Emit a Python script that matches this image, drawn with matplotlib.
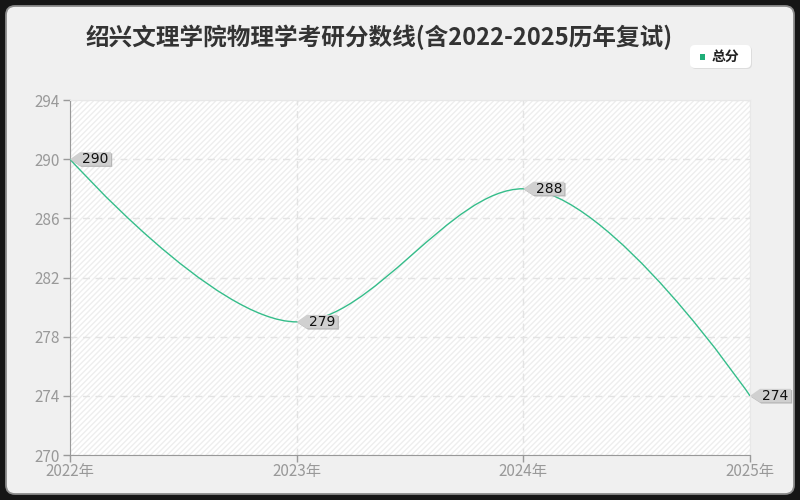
import matplotlib
matplotlib.use('Agg')
import matplotlib.pyplot as plt
import matplotlib.transforms as mtransforms
from matplotlib.patches import FancyBboxPatch, Polygon, PathPatch, Rectangle
from matplotlib.path import Path
import numpy as np

plt.rcParams['font.family'] = ['Noto Sans CJK SC', 'DejaVu Sans']

title = '绍兴文理学院物理学考研分数线(含2022-2025历年复试)'
years = [2022, 2023, 2024, 2025]
year_labels = ['2022年', '2023年', '2024年', '2025年']
scores = [290, 279, 288, 274]
series_name = '总分'

LINE_COLOR = '#35bd8a'
GRAY_TEXT = '#999999'


def smooth_path(px, py, smooth=0.35):
    # echarts-style bezier smoothing, done in pixel space
    n = len(px)
    verts = [(px[0], py[0])]
    codes = [Path.MOVETO]
    cp0 = (px[0], py[0])
    for i in range(1, n):
        x, y = px[i], py[i]
        prev_x, prev_y = px[i - 1], py[i - 1]
        if i == n - 1:
            cp1 = (x, y)
            nxt = None
        else:
            nx, ny = px[i + 1], py[i + 1]
            vx, vy = nx - prev_x, ny - prev_y
            len_prev = np.hypot(x - prev_x, y - prev_y)
            len_next = np.hypot(nx - x, ny - y)
            ratio = len_next / (len_next + len_prev)
            ncx = x + vx * smooth * ratio
            ncy = y + vy * smooth * ratio
            ncx = min(ncx, max(nx, x)); ncy = min(ncy, max(ny, y))
            ncx = max(ncx, min(nx, x)); ncy = max(ncy, min(ny, y))
            vx, vy = ncx - x, ncy - y
            c1x = x - vx * len_prev / len_next
            c1y = y - vy * len_prev / len_next
            c1x = min(c1x, max(prev_x, x)); c1y = min(c1y, max(prev_y, y))
            c1x = max(c1x, min(prev_x, x)); c1y = max(c1y, min(prev_y, y))
            vx, vy = x - c1x, y - c1y
            cp1 = (c1x, c1y)
            nxt = (x + vx * len_next / len_prev, y + vy * len_next / len_prev)
        verts += [cp0, cp1, (x, y)]
        codes += [Path.CURVE4] * 3
        cp0 = nxt
    return verts, codes


fig = plt.figure(figsize=(8, 5), dpi=100, facecolor='#161616')

# rounded light panel with thin gray border
panel = FancyBboxPatch((0.06, 0.06), 7.88, 4.88,
                       boxstyle='round,pad=0,rounding_size=0.09',
                       transform=fig.dpi_scale_trans,
                       facecolor='#f0f0f0', edgecolor='#8c8c8c', linewidth=1.3,
                       zorder=-10)
fig.add_artist(panel)

ax = fig.add_axes([70 / 800, 45 / 500, 680 / 800, 355 / 500])
ax.set_facecolor('white')
ax.add_patch(Rectangle((0, 0), 1, 1, transform=ax.transAxes, facecolor='none',
                       edgecolor='#eeeeee', hatch='//////', linewidth=0, zorder=0))

ax.set_xlim(2022, 2025)
ax.set_ylim(270, 294)
ax.set_xticks(years)
ax.set_xticklabels(year_labels)
ax.set_yticks(range(270, 295, 4))
ax.tick_params(colors=GRAY_TEXT, labelsize=11, length=5, width=1)
ax.tick_params(axis='x', pad=1)
ax.tick_params(axis='y', pad=2)
for lbl in ax.get_xticklabels() + ax.get_yticklabels():
    lbl.set_fontweight('medium')
ax.grid(True, linestyle=(0, (5, 4)), color='#e3e3e3', linewidth=1)
ax.set_axisbelow(True)
for side in ['left', 'bottom']:
    ax.spines[side].set_color('#999999')
for side in ['top', 'right']:
    ax.spines[side].set_color('#e8e8e8')

# smoothed line
fig.canvas.draw()
pix = ax.transData.transform(np.column_stack([years, scores]))
verts, codes = smooth_path(pix[:, 0], pix[:, 1])
verts = ax.transData.inverted().transform(np.array(verts))
ax.add_patch(PathPatch(Path(verts, codes), facecolor='none', edgecolor=LINE_COLOR,
                       linewidth=1, zorder=3))

# value tags pointing at each point
tag = np.array([[0, 0], [0.10, 0.07], [0.41, 0.07], [0.41, -0.065], [0.10, -0.065]])
for x, y in zip(years, scores):
    tag_tr = fig.dpi_scale_trans + mtransforms.ScaledTranslation(x, y, ax.transData)
    ax.add_patch(Polygon(tag + [0.012, -0.012], closed=True, facecolor='#b5b5b5',
                         edgecolor='none', transform=tag_tr, clip_on=False, zorder=4))
    ax.add_patch(Polygon(tag, closed=True, facecolor='#d0d0d0', edgecolor='none',
                         transform=tag_tr, clip_on=False, zorder=5))
    ax.text(0.255, 0.0, str(y), transform=tag_tr, ha='center', va='center',
            fontsize=10, family='DejaVu Sans', color='#111111', zorder=6, clip_on=False)

# title
fig.text(379 / 800, 1 - 37 / 500, title, ha='center', va='center',
         fontsize=17, fontweight='bold', color='#333333')

# legend
fig.add_artist(FancyBboxPatch((6.91, 4.31), 0.61, 0.23,
                              boxstyle='round,pad=0,rounding_size=0.05',
                              transform=fig.dpi_scale_trans,
                              facecolor='#dddddd', edgecolor='none', zorder=1))
fig.add_artist(FancyBboxPatch((6.90, 4.32), 0.61, 0.23,
                              boxstyle='round,pad=0,rounding_size=0.05',
                              transform=fig.dpi_scale_trans,
                              facecolor='white', edgecolor='none', zorder=2))
fig.add_artist(Rectangle((6.995, 4.405), 0.055, 0.055, transform=fig.dpi_scale_trans,
                         facecolor='#1fae78', edgecolor='none', zorder=3))
fig.text(7.12 / 8, 4.43 / 5, series_name, ha='left', va='center',
         fontsize=10, fontweight='bold', color='#222222')

fig.savefig('out.png', dpi=100, facecolor=fig.get_facecolor())
